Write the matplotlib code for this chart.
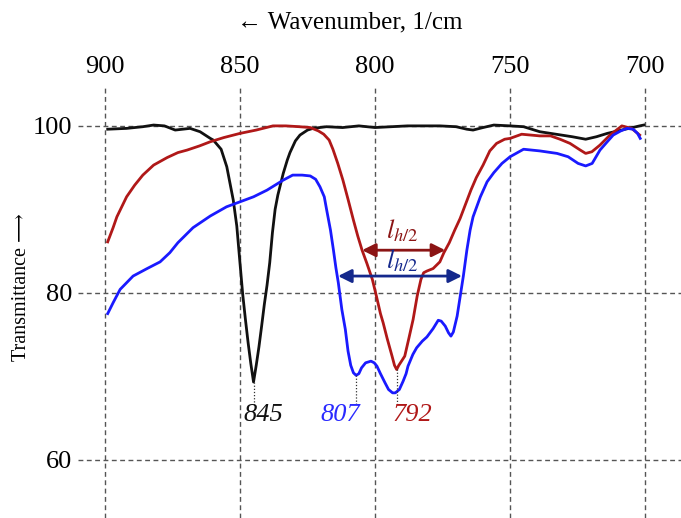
import matplotlib
matplotlib.use("Agg")
import matplotlib.pyplot as plt

plt.rcParams['font.family'] = ['Liberation Serif', 'DejaVu Serif']
plt.rcParams['mathtext.fontset'] = 'stix'

# IR transmission spectra (wavenumber in 1/cm, transmittance in %)
wn_black = [899, 892, 886, 882, 878, 874, 868.5, 864.8, 861, 859.9, 857, 854.9, 852.5, 851.2,
            850, 849, 848, 847, 846, 845, 844, 843, 842, 841, 840, 839, 838, 837,
            836, 835, 834, 832.5, 831.5, 829.5, 827.8, 825, 823, 818, 812, 806, 800, 794,
            788, 782, 776, 770, 766, 763.7, 760, 756, 750, 745, 739, 733, 727, 722, 718, 714,
            710, 706, 702, 700.5]
t_black = [99.6, 99.7, 99.9, 100.1, 100.0, 99.5, 99.7, 99.3, 98.5, 98.3, 97.2, 95.1, 91.1, 88.0,
           83.5, 79.8, 76.8, 74.0, 71.5, 69.3, 71.3, 73.5, 76.0, 78.6, 80.9, 83.6, 87.2, 90.0,
           91.7, 93.0, 94.3, 95.9, 96.8, 98.2, 98.9, 99.5, 99.7, 99.9, 99.8, 100.0, 99.8, 99.9,
           100.0, 100.0, 100.0, 99.9, 99.6, 99.5, 99.8, 100.1, 100.0, 99.9, 99.3, 99.0, 98.7, 98.4,
           98.7, 99.1, 99.4, 99.7, 100.0, 100.1]

wn_red = [899, 897, 895.6, 893.5, 892, 889, 886, 882, 877, 873, 869.6, 865, 861, 856, 850, 844,
          837.8, 833, 828, 824, 821, 819, 817, 815.6, 813.8, 811.9, 810, 808, 806.4, 804.8, 803,
          801, 799.5, 798, 797, 795.5, 793.7, 792.8, 792, 791.2, 789, 787.5, 785.9, 784.4, 783,
          782, 780.8, 778.5, 776, 774.5, 772.5, 770.5, 768.5, 766.5, 764.5, 762.5, 760, 757.5,
          755, 752, 750, 745.7, 739, 735, 731.5, 727.8, 724, 722, 719.7, 716.7, 713, 708.6, 705,
          702]
t_red = [86.1, 87.8, 89.1, 90.5, 91.5, 92.9, 94.1, 95.3, 96.2, 96.8, 97.1, 97.6, 98.1, 98.6, 99.1,
         99.5, 100.0, 100.0, 99.9, 99.8, 99.4, 99.0, 98.3, 97.2, 95.5, 93.5, 91.2, 88.7, 86.8, 85.1,
         83.5, 81.6, 79.6, 77.5, 76.4, 74.5, 72.4, 71.3, 70.8, 71.3, 72.4, 74.5, 76.8, 79.6, 81.6,
         82.4, 82.6, 82.9, 83.7, 84.8, 86.0, 87.5, 88.9, 90.6, 92.3, 93.8, 95.3, 97.0,
         97.9, 98.4, 98.5, 99.0, 98.8, 98.8, 98.4, 97.9, 97.1, 96.7, 96.9, 97.7, 98.9, 100.0, 99.7,
         98.9]

wn_blue = [899, 897, 894.4, 889.6, 884.4, 879.6, 876, 873, 867.4, 861, 855, 850, 845, 840, 834,
           830.5, 827, 824, 822, 820.4, 818.8, 817.9, 816.5, 815.4, 814.5, 813.6, 812.3, 811,
           810, 809, 808, 807, 806, 805, 803.5, 801.5, 800.3, 799.3, 798, 796.3, 795, 793.5,
           792.5, 791, 789.6, 788.5, 787.8, 786, 784.6, 782.5, 780.8, 778.5, 776.6, 775.5, 774,
           772.8, 771.9, 771, 769.6, 768.5, 767.3, 766, 764.8, 763.7, 761, 758.5, 756, 753, 750,
           745, 739, 732.6, 728.5, 724.8, 722, 719.6, 716.7, 714, 711.8, 709, 706.7, 704.4,
           702.8, 701.8]
t_blue = [77.5, 78.8, 80.4, 82.0, 82.9, 83.7, 84.8, 86.0, 87.8, 89.2, 90.3, 90.9, 91.5, 92.3,
          93.5, 94.1, 94.1, 94.0, 93.6, 92.7, 91.5, 89.9, 87.5, 85.1, 83.0, 81.2, 78.0, 75.6,
          73.0, 71.3, 70.4, 70.1, 70.3, 71.0, 71.6, 71.8, 71.6, 71.2, 70.3, 69.2, 68.4, 68.0,
          68.0, 68.4, 69.4, 70.3, 71.2, 72.6, 73.4, 74.2, 74.7, 75.7, 76.7, 76.6, 76.0,
          75.2, 74.8, 75.3, 77.2, 79.5, 82.0, 85.1, 87.5, 89.1, 91.5, 93.3, 94.4, 95.5, 96.3,
          97.2, 97.0, 96.7, 96.3, 95.5, 95.2, 95.5, 97.1, 98.1, 98.9, 99.4, 99.7, 99.6,
          99.1, 98.5]

# labelled band minima
peak_wn = [845, 807, 792]
peak_t = [69.3, 70.1, 70.8]
peak_labels = ['845', '807', '792']
peak_label_wn = [841.5, 813.0, 786.3]

# half-height widths
red_fwhm = (804.8, 774.0, 85.1)
blue_fwhm = (813.7, 767.8, 82.0)

x_ticks = [900, 850, 800, 750, 700]
y_ticks = [60, 80, 100]

W, H = 681, 518
fig = plt.figure(figsize=(W / 100, H / 100), dpi=100)
ax = fig.add_axes([78 / W, 0, (W - 78) / W, (H - 85) / H])
ax.set_xlim(910, 686.7)
ax.set_ylim(53.0, 104.9)

for s in ax.spines.values():
    s.set_visible(False)
ax.xaxis.tick_top()
ax.set_xticks(x_ticks)
ax.set_yticks(y_ticks)
ax.tick_params(axis='x', length=0, pad=5, labelsize=19)
ax.tick_params(axis='y', length=0, pad=4, labelsize=19)
ax.grid(True, color='#555555', linestyle=(0, (3.5, 2.5)), linewidth=1.0)
ax.set_axisbelow(True)

c_black = '#111111'
c_red = '#b01818'
c_blue = '#1a1aff'
c_dred = '#8b1414'
c_navy = '#14288c'

ax.plot(wn_black, t_black, color=c_black, lw=2.0, solid_joinstyle='round')
ax.plot(wn_red, t_red, color=c_red, lw=2.0, solid_joinstyle='round')
ax.plot(wn_blue, t_blue, color=c_blue, lw=2.0, solid_joinstyle='round')

label_colors = [c_black, '#2a2aff', c_red]
for w, t, lab, lw_, col in zip(peak_wn, peak_t, peak_labels, peak_label_wn, label_colors):
    ax.plot([w, w], [t, 66.6], color='#333333', lw=0.9, linestyle=(0, (1, 1.5)))
    ax.text(lw_, 65.4, lab, color=col, fontsize=19, style='italic', ha='center', va='center')

for (x1, x2, y), col in [(red_fwhm, c_dred), (blue_fwhm, c_navy)]:
    ax.annotate('', xy=(x2, y), xytext=(x1, y),
                arrowprops=dict(arrowstyle='<|-|>', color=col, lw=2.0,
                                mutation_scale=20, shrinkA=0, shrinkB=0))
ax.text(790, 85.9, r'$l_{h/2}$', color=c_dred, fontsize=19, ha='center', va='bottom')
ax.text(790, 82.3, r'$l_{h/2}$', color=c_navy, fontsize=19, ha='center', va='bottom')

fig.text(350 / W, 1 - 22 / H, '\u2190 Wavenumber, 1/cm', ha='center', va='center', fontsize=18)
fig.text(22 / W, 1 - 287 / H, 'Transmittance \u27f6', ha='center', va='center',
         rotation=90, fontsize=14.5)

fig.savefig('out.png', dpi=100)
